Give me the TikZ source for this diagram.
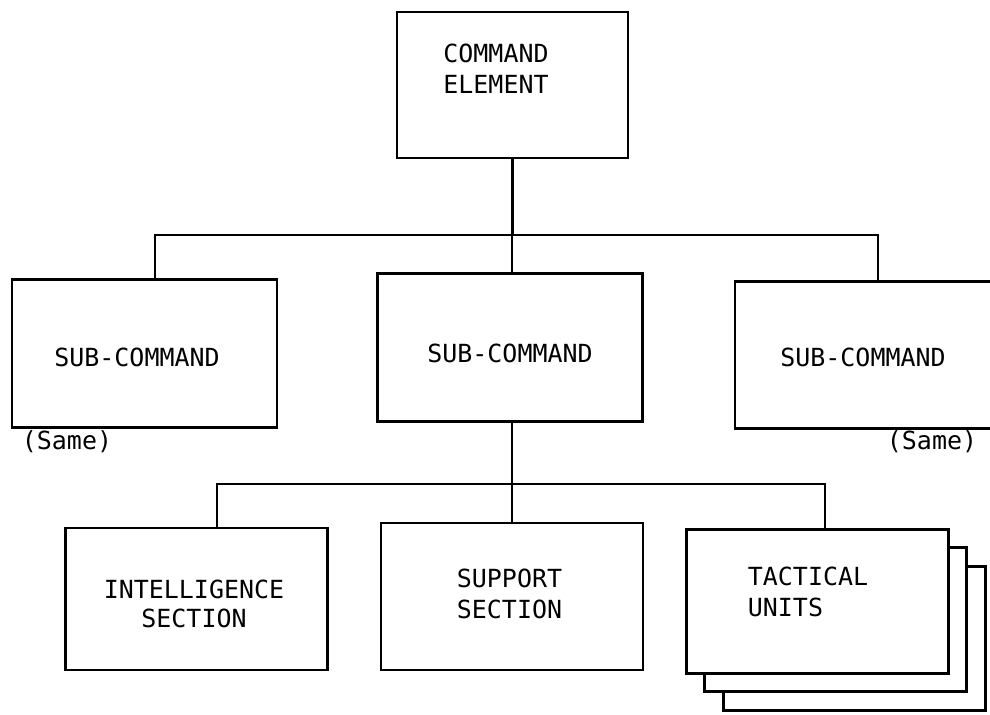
\documentclass[tikz,border=0pt]{standalone}
\usepackage{fontspec}
\setmonofont{DejaVu Sans Mono}
\usetikzlibrary{arrows}

\begin{document}
\begin{tikzpicture}[x=0.02cm,y=-0.02cm]
\tikzstyle {bx1}=[rectangle, draw=black, line width=1.5pt, inner sep=0pt, fill=white]
\tikzstyle {bxc}=[bx1, minimum width=4.62cm, minimum height=2.92cm]
\tikzstyle {bxs}=[bx1, minimum width=5.3cm, minimum height=2.95cm]
\tikzstyle {bxu}=[bx1, minimum width=5.24cm, minimum height=2.88cm]
\tikzstyle {txtonly}=[rectangle, inner sep=0pt, align=center, font=\ttfamily\fontsize{14.2}{17.6}\selectfont]
\tikzstyle {wire}=[line width=1.5pt]
\useasboundingbox (0,0) rectangle (990,714);
% top level
\node (ce) [bxc] at (512.5,85) {};
\node (cet) [txtonly, align=left] at (496,68.5) {COMMAND\\ELEMENT};
% sub-commands
\node (sc1) [bxs] at (144.5,353.5) {};
\node (sc2) [bxs] at (510,347.5) {};
\node (sc3) [bxs] at (867.5,355) {};
\node (sc1t) [txtonly] at (137,357) {SUB-COMMAND};
\node (sc2t) [txtonly] at (510,353) {SUB-COMMAND};
\node (sc3t) [txtonly] at (863,357) {SUB-COMMAND};
\node (same1) [txtonly] at (67,442) {(Same)};
\node (same3) [txtonly] at (932,442) {(Same)};
% sections
\node (int) [bxu, minimum height=2.84cm] at (196.5,599) {};
\node (sup) [bxu, minimum height=2.94cm] at (512,596.5) {};
\node (tu3) [bxu] at (854.5,638.5) {};
\node (tu2) [bxu] at (835.5,619.5) {};
\node (tu) [bxu] at (817.5,601.5) {};
\node (intt) [txtonly] at (194,604) {INTELLIGENCE\\[-1pt]SECTION};
\node (supt) [txtonly] at (509.5,593.5) {SUPPORT\\SECTION};
\node (tut) [txtonly, align=left] at (808,592) {TACTICAL\\UNITS};
% connectors
\coordinate (b1) at (512,235);
\coordinate (b1l) at (155,235);
\coordinate (b1r) at (878,235);
\coordinate (b2) at (512,484);
\coordinate (b2l) at (217,484);
\coordinate (b2r) at (825,484);
\draw[wire] (ce.south) -- (ce.south |- b1);
\draw[wire] (b1l |- sc1.north) -- (b1l) -- (b1r) -- (b1r |- sc3.north);
\draw[wire] (b1) -- (b1 |- sc2.north);
\draw[wire] (sc2.south -| b2) -- (b2 |- sup.north);
\draw[wire] (b2l |- int.north) -- (b2l) -- (b2r) -- (b2r |- tu.north);
\end{tikzpicture}
\end{document}
